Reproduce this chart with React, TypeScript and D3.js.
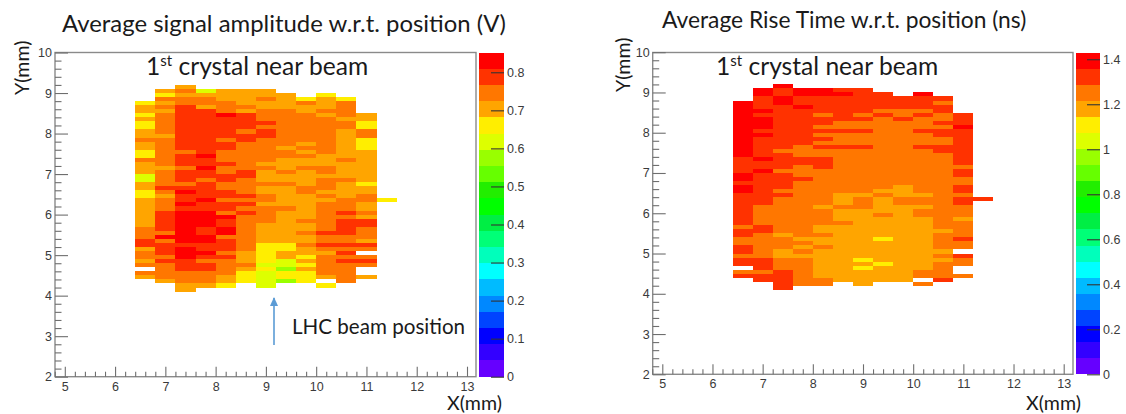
import React, { useEffect, useRef } from "react";
import * as d3 from "d3";

const _ = null;

// bin layout of the map: 13 columns of 0.4 mm from x = 6.4, 51 rows of 0.1 mm down from y = 9.2
const xBinStart = 6.4;
const xBinWidth = 0.4;
const yBinTop = 9.2;
const yBinHeight = 0.1;

// ROOT rainbow, 20 contour levels, low to high
const palette = [
  "#6600ff", "#3300ff", "#0000ff", "#0044ff", "#0088ff",
  "#00bbff", "#00ffff", "#00ffbb", "#00ff77", "#00ee44",
  "#00ff00", "#22ee00", "#66ff00", "#99ff00", "#ddff00",
  "#ffee00", "#ffa500", "#ff7700", "#ff3300", "#ff0000",
];

// signal amplitude (V), one list per x column, top row first
const ampColumns: (number | null)[][] = [
  [_,_,_,_,.66,.70,.70,.66,.70,.66,.66,.70,.70,.74,.70,.70,.66,.66,.74,.70,.70,.70,.62,.62,.70,.70,.66,.66,.70,.70,.70,.70,.70,.70,.70,.74,.74,.74,.79,.79,.70,.74,.74,.70,.74,_,.74,.70],
  [_,.70,.66,.74,.70,.74,.70,.74,.74,.74,.74,.74,.70,.74,.74,.74,.74,.74,.74,.74,.70,.74,.74,.74,.74,.79,.74,.70,.74,.74,.74,.79,.79,.79,.79,.79,.74,.83,.74,.79,.79,.79,.74,.79,.74,.74,.74,.74,.70],
  [.70,.74,.70,.74,.74,.79,.79,.79,.79,.79,.79,.79,.79,.79,.79,.79,.74,.79,.79,.79,.74,.79,.79,.79,.74,.79,.83,.79,.79,.83,.79,.83,.83,.83,.83,.83,.83,.83,.83,.79,.83,.83,.83,.79,.79,.79,.74,.74,.74,.70,.70],
  [_,.62,.70,.74,.74,.70,.79,.79,.79,.79,.79,.79,.79,.79,.79,.79,.79,.83,.79,.79,.83,.79,.79,.74,.79,.79,.79,.79,.83,.79,.79,.83,.83,.83,.83,.79,.79,.83,.83,.79,.79,.83,.79,.74,.79,.79,.74,.74,.74,.70],
  [_,.70,.70,.70,.74,.74,.74,.83,.79,.79,.79,.79,.79,.74,.79,.79,.74,.74,.74,.79,.74,.74,.79,.79,.74,.74,.79,.79,.74,.79,.79,.74,.83,.79,.79,.83,.83,.74,.79,.79,.79,.74,.79,.74,.74,.74,.74,.70,.70,.66],
  [_,.70,.70,.70,.70,.74,.70,.79,.79,.79,.79,.74,.79,.79,.74,.74,.74,.74,.74,.74,.74,.79,.79,.74,.74,.74,.74,.79,.74,.79,.74,.79,.74,.74,.74,.74,.74,.74,.74,.74,.74,.70,.70,.70,.74,.70,.66,.66,.66],
  [_,.70,.70,.74,.70,.70,.74,.74,.74,.79,.74,.79,.79,.74,.74,.74,.74,.74,.74,.70,.74,.70,.70,.70,.74,.70,.70,.74,.74,.70,.74,.74,.74,.74,.70,.70,.70,.70,.70,.66,.66,.66,.66,.66,.62,.66,.62,.62,.62,.62],
  [_,_,.70,.70,.70,.70,.74,.74,.74,.74,.74,.74,.74,.74,.74,.70,.74,.74,.70,.70,.70,.74,.70,.70,.74,.70,.70,.70,.70,.70,.74,.70,.70,.70,.70,.70,.70,.70,.70,.66,.66,.70,.70,.62,.62,.58,.66,.66,.58],
  [_,_,_,.66,.74,.70,.70,.74,.74,.74,.74,.74,.74,.74,.70,.74,.70,.74,.70,.70,.74,.70,.70,.70,.70,.74,.74,.70,.70,.70,.70,.70,.70,.74,.70,.70,.74,.70,.70,.74,.70,.70,.66,.70,.66,.70,.66,.66,.66],
  [_,_,.66,.70,.70,.70,.74,.70,.74,.74,.74,.74,.74,.74,.74,.74,.74,.70,.70,.70,.74,.74,.70,.74,.74,.74,.70,.74,.70,.74,.74,.74,.74,.74,.74,.74,.79,.74,.74,.79,.74,.70,.74,.74,.74,.74,.74,.70,_,.66],
  [_,_,_,.66,.74,.74,.74,.74,.70,.74,.74,.70,.70,.70,.70,.70,.70,.70,.74,.70,.70,.70,.70,.74,.70,.70,.70,.70,.74,.74,.74,.79,.74,.79,.79,.79,.79,.74,.74,.79,.74,.79,.74,.79,.74,.74,.74,.74,.74],
  [_,_,_,_,_,_,_,.70,.70,.66,.66,.74,.74,.66,.66,.66,.70,.70,.70,.70,.70,.70,.70,.70,.66,.70,.70,.74,.74,.70,.70,.74,.70,.79,.79,.74,.74,.74,.70,.79,.74,_,.74,.79,.74,_,_,.70],
  [_,_,_,_,_,_,_,_,_,_,_,_,_,_,_,_,_,_,_,_,_,_,_,_,_,_,_,_,.66],
];

// rise time (ns), same binning
const riseColumns: (number | null)[][] = [
  [_,_,_,_,1.39,1.39,1.39,1.39,1.39,1.39,1.39,1.39,1.39,1.39,1.39,1.39,1.39,1.39,1.32,1.32,1.32,1.32,1.39,1.39,1.32,1.39,1.39,1.32,1.32,1.32,1.32,1.32,1.32,1.32,1.32,1.25,1.32,1.32,1.25,1.25,1.32,1.32,1.25,1.32,1.32,_,1.25,1.32],
  [_,1.39,1.39,1.32,1.32,1.32,1.39,1.32,1.39,1.39,1.39,1.32,1.39,1.32,1.32,1.32,1.32,1.32,1.39,1.32,1.32,1.39,1.32,1.32,1.32,1.32,1.32,1.32,1.32,1.32,1.25,1.25,1.25,1.25,1.25,1.32,1.32,1.25,1.25,1.25,1.25,1.25,1.25,1.32,1.32,1.32,1.25,1.32,1.32],
  [1.39,1.32,1.32,1.39,1.39,1.32,1.32,1.32,1.32,1.32,1.32,1.32,1.32,1.32,1.32,1.32,1.25,1.32,1.32,1.32,1.32,1.25,1.32,1.32,1.32,1.32,1.25,1.32,1.25,1.25,1.25,1.25,1.25,1.25,1.25,1.25,1.25,1.18,1.25,1.25,1.25,1.18,1.18,1.25,1.25,1.25,1.32,1.32,1.32,1.32,1.32],
  [_,1.39,1.39,1.32,1.32,1.39,1.32,1.32,1.32,1.32,1.32,1.32,1.32,1.32,1.32,1.25,1.25,1.25,1.32,1.32,1.25,1.25,1.25,1.32,1.25,1.25,1.25,1.25,1.25,1.25,1.25,1.25,1.25,1.25,1.25,1.25,1.25,1.25,1.18,1.25,1.18,1.25,1.18,1.25,1.25,1.25,1.25,1.25,1.25,1.25],
  [_,1.39,1.39,1.32,1.32,1.32,1.32,1.25,1.32,1.32,1.25,1.32,1.25,1.32,1.25,1.32,1.25,1.25,1.32,1.32,1.32,1.25,1.25,1.25,1.25,1.25,1.25,1.25,1.25,1.25,1.18,1.25,1.25,1.25,1.25,1.18,1.18,1.25,1.18,1.18,1.25,1.18,1.18,1.18,1.18,1.18,1.18,1.18,1.25,1.25],
  [_,1.32,1.39,1.32,1.32,1.32,1.32,1.32,1.32,1.25,1.25,1.32,1.25,1.25,1.25,1.32,1.25,1.25,1.25,1.25,1.25,1.25,1.25,1.25,1.25,1.25,1.25,1.18,1.18,1.18,1.25,1.18,1.18,1.18,1.25,1.18,1.18,1.18,1.18,1.18,1.18,1.18,1.18,1.18,1.18,1.18,1.18,1.18,1.18],
  [_,1.32,1.32,1.32,1.32,1.32,1.32,1.25,1.32,1.25,1.25,1.32,1.25,1.25,1.25,1.32,1.25,1.25,1.25,1.25,1.25,1.25,1.25,1.25,1.25,1.25,1.25,1.18,1.25,1.25,1.25,1.18,1.18,1.18,1.18,1.18,1.18,1.18,1.18,1.18,1.18,1.18,1.18,1.11,1.18,1.11,1.18,1.18,1.18,1.18],
  [_,_,1.32,1.32,1.32,1.32,1.25,1.32,1.25,1.25,1.25,1.25,1.25,1.25,1.25,1.25,1.25,1.25,1.25,1.25,1.25,1.25,1.25,1.25,1.25,1.25,1.18,1.25,1.18,1.18,1.18,1.18,1.25,1.18,1.18,1.18,1.18,1.18,1.11,1.18,1.18,1.18,1.18,1.18,1.11,1.18,1.18,1.18,1.18],
  [_,_,_,1.32,1.32,1.32,1.25,1.25,1.32,1.25,1.25,1.25,1.25,1.25,1.25,1.25,1.25,1.25,1.25,1.25,1.25,1.25,1.25,1.25,1.25,1.18,1.18,1.18,1.25,1.25,1.18,1.18,1.18,1.18,1.18,1.18,1.18,1.18,1.18,1.18,1.18,1.18,1.18,1.18,1.18,1.18,1.18,1.18,1.18],
  [_,_,1.39,1.32,1.32,1.32,1.25,1.32,1.25,1.25,1.25,1.32,1.25,1.25,1.25,1.32,1.25,1.25,1.25,1.25,1.25,1.25,1.25,1.25,1.25,1.25,1.25,1.18,1.25,1.25,1.18,1.25,1.25,1.18,1.18,1.18,1.18,1.18,1.18,1.18,1.18,1.18,1.18,1.18,1.18,1.18,1.25,1.25,_,1.25],
  [_,_,_,1.32,1.25,1.32,1.32,1.25,1.25,1.32,1.25,1.32,1.32,1.25,1.25,1.32,1.32,1.25,1.25,1.25,1.25,1.25,1.25,1.25,1.25,1.25,1.25,1.25,1.25,1.25,1.25,1.25,1.25,1.25,1.25,1.25,1.18,1.25,1.25,1.25,1.25,1.18,1.25,1.18,1.25,1.25,1.25,1.25,1.32],
  [_,_,_,_,_,_,_,1.32,1.32,1.32,1.39,1.32,1.32,1.32,1.32,1.32,1.32,1.32,1.32,1.32,1.25,1.32,1.32,1.25,1.25,1.32,1.32,1.25,1.32,1.32,1.25,1.25,1.25,1.18,1.25,1.25,1.25,1.25,1.32,1.25,1.25,_,1.32,1.25,1.25,_,_,1.25],
  [_,_,_,_,_,_,_,_,_,_,_,_,_,_,_,_,_,_,_,_,_,_,_,_,_,_,_,_,1.32],
];

const ampTicks = [0, 0.1, 0.2, 0.3, 0.4, 0.5, 0.6, 0.7, 0.8];
const riseTicks = [0, 0.2, 0.4, 0.6, 0.8, 1, 1.2, 1.4];
const xMajor = [5, 6, 7, 8, 9, 10, 11, 12, 13];
const yMajor = [2, 3, 4, 5, 6, 7, 8, 9, 10];

const labelFont = "'Liberation Sans', Arial, sans-serif";
const noteFont = "Lato, 'Open Sans', sans-serif";
const axisGrey = "#6e6e6e";
const tickText = "#3a3a3a";

type PanelProps = {
  columns: (number | null)[][];
  zMax: number;
  zTicks: number[];
  frame: { left: number; right: number; top: number; bottom: number };
  x5: number;
  x13: number;
  y2: number;
  y10: number;
  barLeft: number;
  barRight: number;
  id: string;
};

function HeatPanel({ columns, zMax, zTicks, frame, x5, x13, y2, y10, barLeft, barRight, id }: PanelProps) {
  const xAxisRef = useRef<SVGGElement>(null);
  const xMinorRef = useRef<SVGGElement>(null);
  const yAxisRef = useRef<SVGGElement>(null);
  const yMinorRef = useRef<SVGGElement>(null);
  const zAxisRef = useRef<SVGGElement>(null);

  const x = d3.scaleLinear().domain([5, 13]).range([x5, x13]);
  const y = d3.scaleLinear().domain([2, 10]).range([y2, y10]);
  const zBar = d3.scaleLinear().domain([0, zMax]).range([y2, frame.top]);
  const color = d3.scaleQuantize<string>().domain([0, zMax]).range(palette);
  const band = zMax / palette.length;

  useEffect(() => {
    const style = (g: any, size: number, stroke: string) => {
      g.select(".domain").remove();
      g.selectAll("line").attr("stroke", stroke).attr("stroke-width", 1.1);
      g.selectAll("text")
        .attr("fill", tickText)
        .attr("font-family", labelFont)
        .attr("font-size", size);
    };
    const xMinorVals = d3.range(4.8, 13.01, 0.2).filter((v) => Math.abs(v - Math.round(v)) > 0.01);
    const yMinorVals = d3.range(2, 10.01, 0.2).filter((v) => Math.abs(v - Math.round(v)) > 0.01);

    d3.select(xAxisRef.current)
      .call(d3.axisBottom(x).tickValues(xMajor).tickSizeInner(-10).tickSizeOuter(0).tickPadding(5).tickFormat(d3.format("d")) as any)
      .call((g: any) => style(g, 12.5, axisGrey));
    d3.select(xMinorRef.current)
      .call(d3.axisBottom(x).tickValues(xMinorVals).tickSizeInner(-5).tickSizeOuter(0).tickFormat(() => "") as any)
      .call((g: any) => style(g, 12.5, axisGrey));
    d3.select(yAxisRef.current)
      .call(d3.axisLeft(y).tickValues(yMajor).tickSizeInner(-13).tickSizeOuter(0).tickPadding(3).tickFormat(d3.format("d")) as any)
      .call((g: any) => style(g, 12.5, axisGrey));
    d3.select(yMinorRef.current)
      .call(d3.axisLeft(y).tickValues(yMinorVals).tickSizeInner(-6.5).tickSizeOuter(0).tickFormat(() => "") as any)
      .call((g: any) => style(g, 12.5, axisGrey));
    d3.select(zAxisRef.current)
      .call(d3.axisRight(zBar).tickValues(zTicks).tickSizeInner(-13).tickSizeOuter(0).tickPadding(3).tickFormat((d: any) => String(d)) as any)
      .call((g: any) => style(g, 12.5, "#333"));
  }, []);

  return (
    <g>
      <defs>
        <filter id={`soft-${id}`} x="-5%" y="-5%" width="110%" height="110%">
          <feGaussianBlur stdDeviation="0.45" />
        </filter>
      </defs>
      <g filter={`url(#soft-${id})`} shapeRendering="crispEdges">
        {columns.map((col, i) =>
          col.map((v, j) =>
            v == null ? null : (
              <rect
                key={`${i}-${j}`}
                x={x(xBinStart + i * xBinWidth)}
                y={y(yBinTop - j * yBinHeight)}
                width={x(xBinStart + (i + 1) * xBinWidth) - x(xBinStart + i * xBinWidth)}
                height={y(yBinTop - (j + 1) * yBinHeight) - y(yBinTop - j * yBinHeight)}
                fill={color(v)}
              />
            ),
          ),
        )}
      </g>
      <rect
        x={frame.left}
        y={frame.top}
        width={frame.right - frame.left}
        height={frame.bottom - frame.top}
        fill="none"
        stroke="#8a8a8a"
        strokeWidth={1.4}
      />
      <g ref={xMinorRef} transform={`translate(0,${frame.bottom})`} />
      <g ref={xAxisRef} transform={`translate(0,${frame.bottom})`} />
      <g ref={yMinorRef} transform={`translate(${frame.left},0)`} />
      <g ref={yAxisRef} transform={`translate(${frame.left},0)`} />
      <g shapeRendering="crispEdges">
        {palette.map((c, i) => (
          <rect
            key={c}
            x={barLeft}
            y={zBar((i + 1) * band)}
            width={barRight - barLeft}
            height={zBar(i * band) - zBar((i + 1) * band)}
            fill={c}
          />
        ))}
      </g>
      <g ref={zAxisRef} transform={`translate(${barRight},0)`} />
    </g>
  );
}

function Note({ x, y, size, children, anchor }: any) {
  return (
    <text x={x} y={y} fontSize={size} fontFamily={noteFont} fill="#1a1a1a" textAnchor={anchor}>
      {children}
    </text>
  );
}

function CrystalNote({ x, y }: { x: number; y: number }) {
  return (
    <Note x={x} y={y} size={24.6}>
      1<tspan dy={-9} fontSize={15}>st</tspan>
      <tspan dy={9}> crystal near beam</tspan>
    </Note>
  );
}

export default function App() {
  return (
    <svg
      width={1126}
      height={414}
      style={{ position: "absolute", left: 0, top: 0, background: "#fff" }}
    >
      <HeatPanel
        id="amp"
        columns={ampColumns}
        zMax={0.852}
        zTicks={ampTicks}
        frame={{ left: 55, right: 476, top: 52.5, bottom: 376.7 }}
        x5={64.8}
        x13={467}
        y2={376.7}
        y10={52.5}
        barLeft={479.3}
        barRight={504}
      />
      <HeatPanel
        id="rise"
        columns={riseColumns}
        zMax={1.43}
        zTicks={riseTicks}
        frame={{ left: 652.7, right: 1073, top: 52.5, bottom: 374.3 }}
        x5={662.3}
        x13={1063.7}
        y2={374.3}
        y10={52.2}
        barLeft={1076}
        barRight={1100}
      />

      <Note x={62} y={32} size={23.9}>Average signal amplitude w.r.t. position (V)</Note>
      <Note x={662} y={27.5} size={22.8}>Average Rise Time w.r.t. position (ns)</Note>
      <CrystalNote x={146} y={75} />
      <CrystalNote x={716} y={75} />
      <Note x={292} y={334} size={20.6}>LHC beam position</Note>

      <defs>
        <marker id="beamHead" markerWidth="10" markerHeight="10" refX="8" refY="4" orient="auto" markerUnits="userSpaceOnUse">
          <path d="M0,0 L9,4 L0,8 Z" fill="#5b9bd5" />
        </marker>
      </defs>
      <line x1={274} y1={345} x2={274} y2={298} stroke="#5b9bd5" strokeWidth={1.6} markerEnd="url(#beamHead)" />

      <text transform="translate(29,95) rotate(-90)" fontSize={19.6} fontFamily={noteFont} fill="#1a1a1a">Y(mm)</text>
      <text transform="translate(630,92) rotate(-90)" fontSize={19.6} fontFamily={noteFont} fill="#1a1a1a">Y(mm)</text>
      <text x={447} y={410} fontSize={19.6} fontFamily={noteFont} fill="#1a1a1a">X(mm)</text>
      <text x={1026} y={410} fontSize={19.6} fontFamily={noteFont} fill="#1a1a1a">X(mm)</text>
    </svg>
  );
}
